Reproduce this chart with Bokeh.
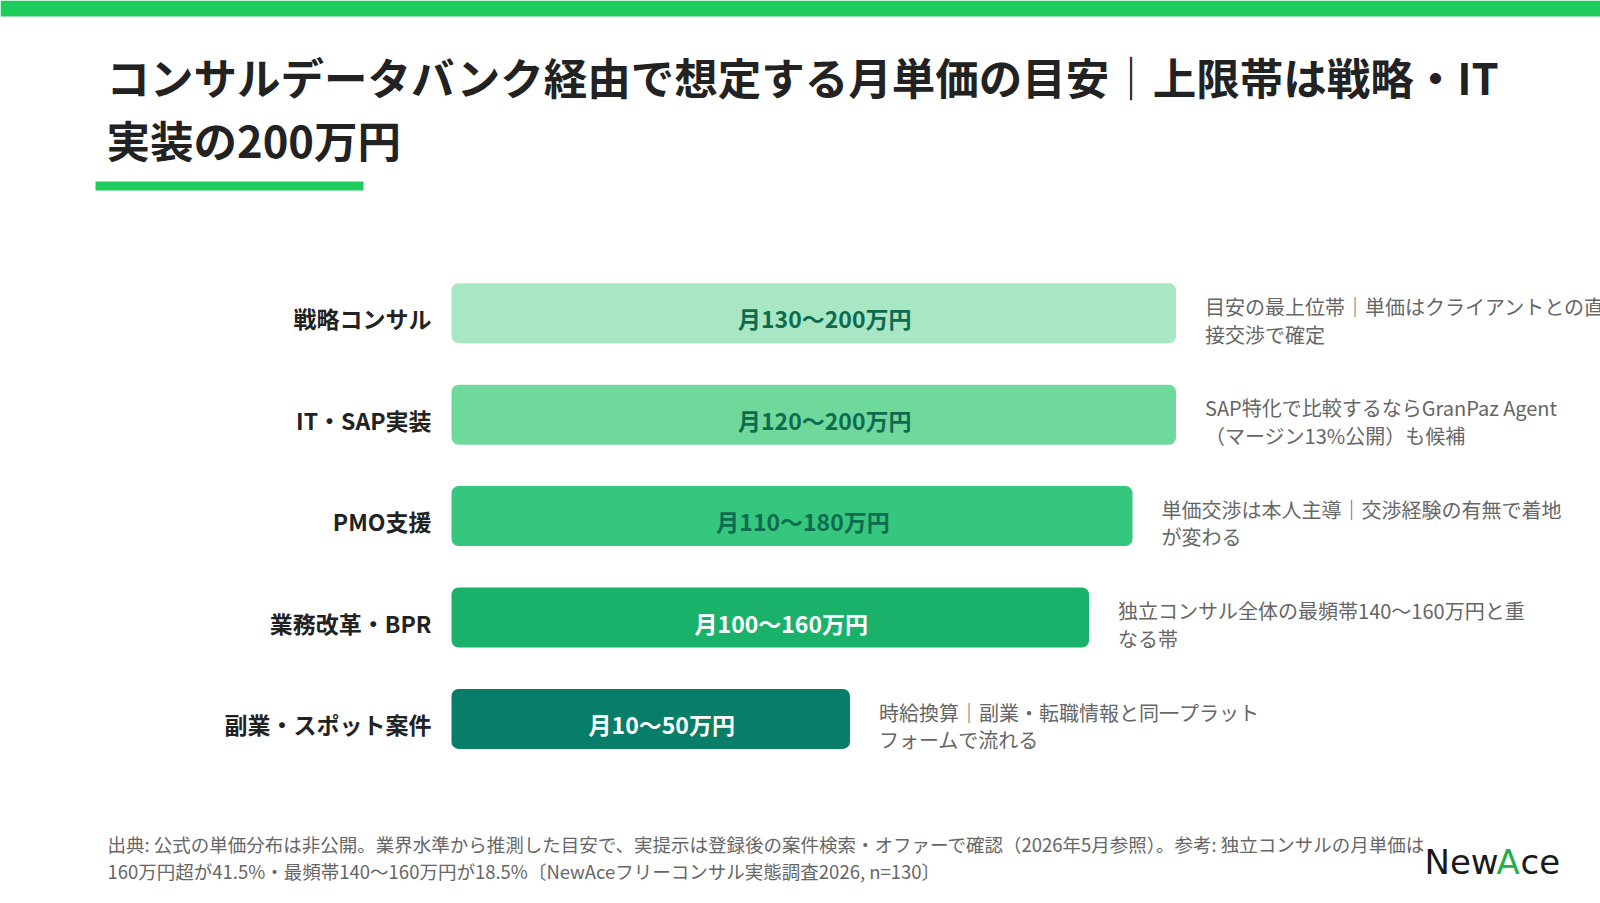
from bokeh.plotting import figure
from bokeh.models import Range1d, ColumnDataSource
from bokeh.core.properties import value
from bokeh.embed import file_html
from bokeh.resources import INLINE

# ---------------- data ----------------
title_lines = ["コンサルデータバンク経由で想定する月単価の目安｜上限帯は戦略・IT", "実装の200万円"]
categories = ["戦略コンサル", "IT・SAP実装", "PMO支援", "業務改革・BPR", "副業・スポット案件"]
low_values = [130, 120, 110, 100, 10]
high_values = [200, 200, 180, 160, 50]
notes = [
    "目安の最上位帯｜単価はクライアントとの直\n接交渉で確定",
    "SAP特化で比較するならGranPaz Agent\n（マージン13%公開）も候補",
    "単価交渉は本人主導｜交渉経験の有無で着地\nが変わる",
    "独立コンサル全体の最頻帯140〜160万円と重\nなる帯",
    "時給換算｜副業・転職情報と同一プラット\nフォームで流れる",
]
footer_lines = [
    "出典: 公式の単価分布は非公開。業界水準から推測した目安で、実提示は登録後の案件検索・オファーで確認（2026年5月参照）。参考: 独立コンサルの月単価は",
    "160万円超が41.5%・最頻帯140〜160万円が18.5%〔NewAceフリーコンサル実態調査2026, n=130〕",
]

# ---------------- styles ----------------
bar_colors = ["#a8e7c4", "#6fd89b", "#35c77d", "#1ab26b", "#087d68"]
label_colors = ["#0f6b50", "#0f6b50", "#0f6b50", "#ffffff", "#ffffff"]
GREEN = "#1ecc5b"
FONT = value("Noto Sans CJK JP")

W, H = 1600, 903
p = figure(width=W, height=H, output_backend="svg", toolbar_location=None,
           x_range=Range1d(0, W), y_range=Range1d(H, 0),
           min_border=0, outline_line_color=None)
p.axis.visible = False
p.grid.visible = False
p.background_fill_color = "white"
p.border_fill_color = "white"

# value scale for bars (bars start at a common base; length grows with upper value)
vmax = max(high_values)
base = -vmax * 2 / 3
bar_left_px, bar_right_px = 451.0, 1175.5
k = (bar_right_px - bar_left_px) / (vmax - base)
vstart = base - bar_left_px / k
vend = vstart + W / k
row0_px, row_step = 312.8, 101.4
p.extra_x_ranges = {"val": Range1d(vstart, vend)}
p.extra_y_ranges = {"row": Range1d((H - row0_px) / row_step, -row0_px / row_step)}

n = len(categories)
src = ColumnDataSource(dict(
    y=list(range(n)),
    cat=categories,
    lo=low_values,
    hi=high_values,
    left=[base] * n,
    mid=[(base + h) / 2 for h in high_values],
    label=[f"月{l}〜{h}万円" for l, h in zip(low_values, high_values)],
    note=notes,
    color=bar_colors,
    lcolor=label_colors,
))

p.hbar(y="y", left="left", right="hi", height=60 / row_step, source=src,
       fill_color="color", line_color=None, border_radius=7,
       x_range_name="val", y_range_name="row")

p.text(x="mid", y="y", text="label", source=src, x_range_name="val", y_range_name="row",
       text_font=FONT, text_font_style="bold", text_font_size="23px",
       text_color="lcolor", text_align="center", text_baseline="middle",
       x_offset=11, y_offset=5)

p.text(x="hi", y="y", text="note", source=src, x_range_name="val", y_range_name="row",
       text_font=FONT, text_font_size="20px", text_color="#666666",
       text_align="left", text_baseline="middle", text_line_height=0.95,
       x_offset=29, y_offset=7)

p.text(x=[base] * n, y=list(range(n)), text=categories, x_range_name="val", y_range_name="row",
       text_font=FONT, text_font_style="bold", text_font_size="23px",
       text_color="#222222", text_align="right", text_baseline="middle",
       x_offset=-20, y_offset=5)

# decorations (pixel coordinates)
p.quad(left=[0], right=[W], top=[0], bottom=[16], fill_color=GREEN, line_color=None)
p.quad(left=[95], right=[363], top=[181], bottom=[190], fill_color=GREEN, line_color=None)

p.text(x=[106, 106], y=[76, 139], text=title_lines, text_font=FONT, text_font_style="bold",
       text_font_size="43.5px", text_color="#222222", text_align="left", text_baseline="middle")

p.text(x=[107, 107], y=[843, 870], text=footer_lines, text_font=FONT,
       text_font_size="18.5px", text_color="#666666", text_align="left", text_baseline="middle")

# logo
LOGO = value("DejaVu Sans")
p.text(x=[1424], y=[861], text=["New"], text_font=LOGO, text_font_size="34px",
       text_color="#1a1a1a", text_align="left", text_baseline="middle")
p.text(x=[1496], y=[861], text=["A"], text_font=LOGO, text_font_size="34px",
       text_color="#22b04a", text_align="left", text_baseline="middle")
p.text(x=[1520], y=[861], text=["ce"], text_font=LOGO, text_font_size="34px",
       text_color="#1a1a1a", text_align="left", text_baseline="middle")

open("out.html", "w").write(file_html(p, INLINE))
